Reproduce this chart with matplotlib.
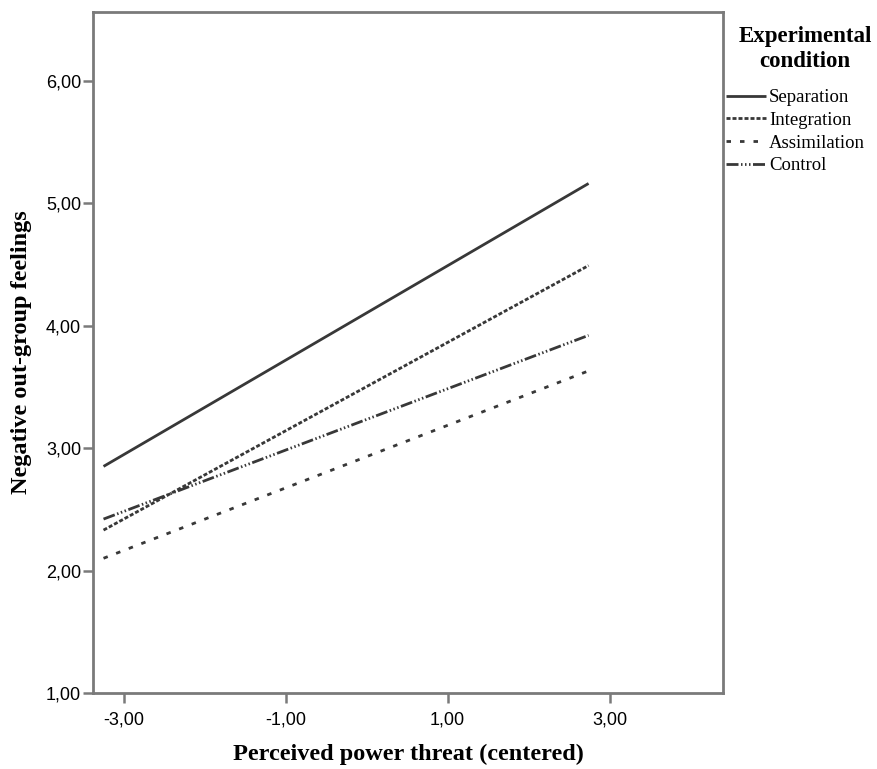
"""Interaction plot: negative out-group feelings by perceived power threat and condition"""
import matplotlib
matplotlib.use("Agg")
import matplotlib.pyplot as plt  # pylint: disable=import-error

plt.rcParams["lines.scale_dashes"] = False

# endpoints of the fitted lines (centered threat)
THREAT = [-3.25, 2.74]
CONDITIONS = ["Separation", "Integration", "Assimilation", "Control"]
SEPARATION = [2.85, 5.16]
INTEGRATION = [2.33, 4.49]
ASSIMILATION = [2.10, 3.63]
CONTROL = [2.42, 3.92]
X_TICKS = [-3, -1, 1, 3]
Y_TICKS = [1, 2, 3, 4, 5, 6]

LINE_COL = "#383838"
SPINE_COL = "#7a7a7a"
# px -> pt at 100 dpi
PX = 0.72
STYLES = {
    "Separation": "-",
    "Integration": (0, (4 * PX, 2 * PX)),
    "Assimilation": (0, (4.5 * PX, 9 * PX)),
    "Control": (0, (12 * PX, 2.5 * PX, 1.5 * PX, 2.5 * PX, 1.5 * PX, 2.5 * PX, 1.5 * PX, 2.5 * PX)),
}
SERIES = dict(zip(CONDITIONS, [SEPARATION, INTEGRATION, ASSIMILATION, CONTROL]))


def comma(v):
    return f"{v:.2f}".replace(".", ",")


fig = plt.figure(figsize=(8.78, 7.69), dpi=100)
ax = fig.add_axes([93 / 878, 76 / 769, 630 / 878, 681 / 769])

handles = []
for name in CONDITIONS:
    (h,) = ax.plot(THREAT, SERIES[name], color=LINE_COL, lw=2.0,
                   linestyle=STYLES[name], solid_capstyle="butt",
                   dash_capstyle="butt", label=name)
    handles.append(h)

ax.set_xlim(-3.38, 4.40)
ax.set_ylim(1.0, 6.56)
ax.set_xticks(X_TICKS)
ax.set_yticks(Y_TICKS)
ax.set_xticklabels([comma(v) for v in X_TICKS])
ax.set_yticklabels([comma(v) for v in Y_TICKS])

for s in ax.spines.values():
    s.set_color(SPINE_COL)
    s.set_linewidth(2.0)
ax.tick_params(direction="out", length=7.5, width=1.8, color=SPINE_COL,
               labelsize=13, labelcolor="black")
for lab in ax.get_xticklabels() + ax.get_yticklabels():
    lab.set_family(["Liberation Sans Narrow", "Liberation Sans", "DejaVu Sans"])
ax.tick_params(axis="x", pad=6)
ax.tick_params(axis="y", pad=1)

ax.set_xlabel("Perceived power threat (centered)", family="Liberation Serif",
              fontweight="bold", fontsize=17.5, labelpad=11)
ax.set_ylabel("Negative out-group feelings", family="Liberation Serif",
              fontweight="bold", fontsize=17.5, labelpad=10)

# legend title drawn separately so the gap matches the original
fig.text(805 / 878, 1 - 49 / 769, "Experimental\ncondition", ha="center",
         va="center", multialignment="center", family="Liberation Serif",
         fontweight="bold", fontsize=16.5, linespacing=1.25)

leg = fig.legend(handles=handles, labels=CONDITIONS, loc="upper left",
                 bbox_to_anchor=(726 / 878, 1 - 89 / 769), frameon=False,
                 prop={"family": "Liberation Serif", "size": 13.5},
                 handlelength=2.15, handletextpad=0.15, labelspacing=0.3,
                 borderpad=0.0, borderaxespad=0.0)
for h in leg.legend_handles:
    h.set_color(LINE_COL)

fig.savefig("out.png", dpi=100)
